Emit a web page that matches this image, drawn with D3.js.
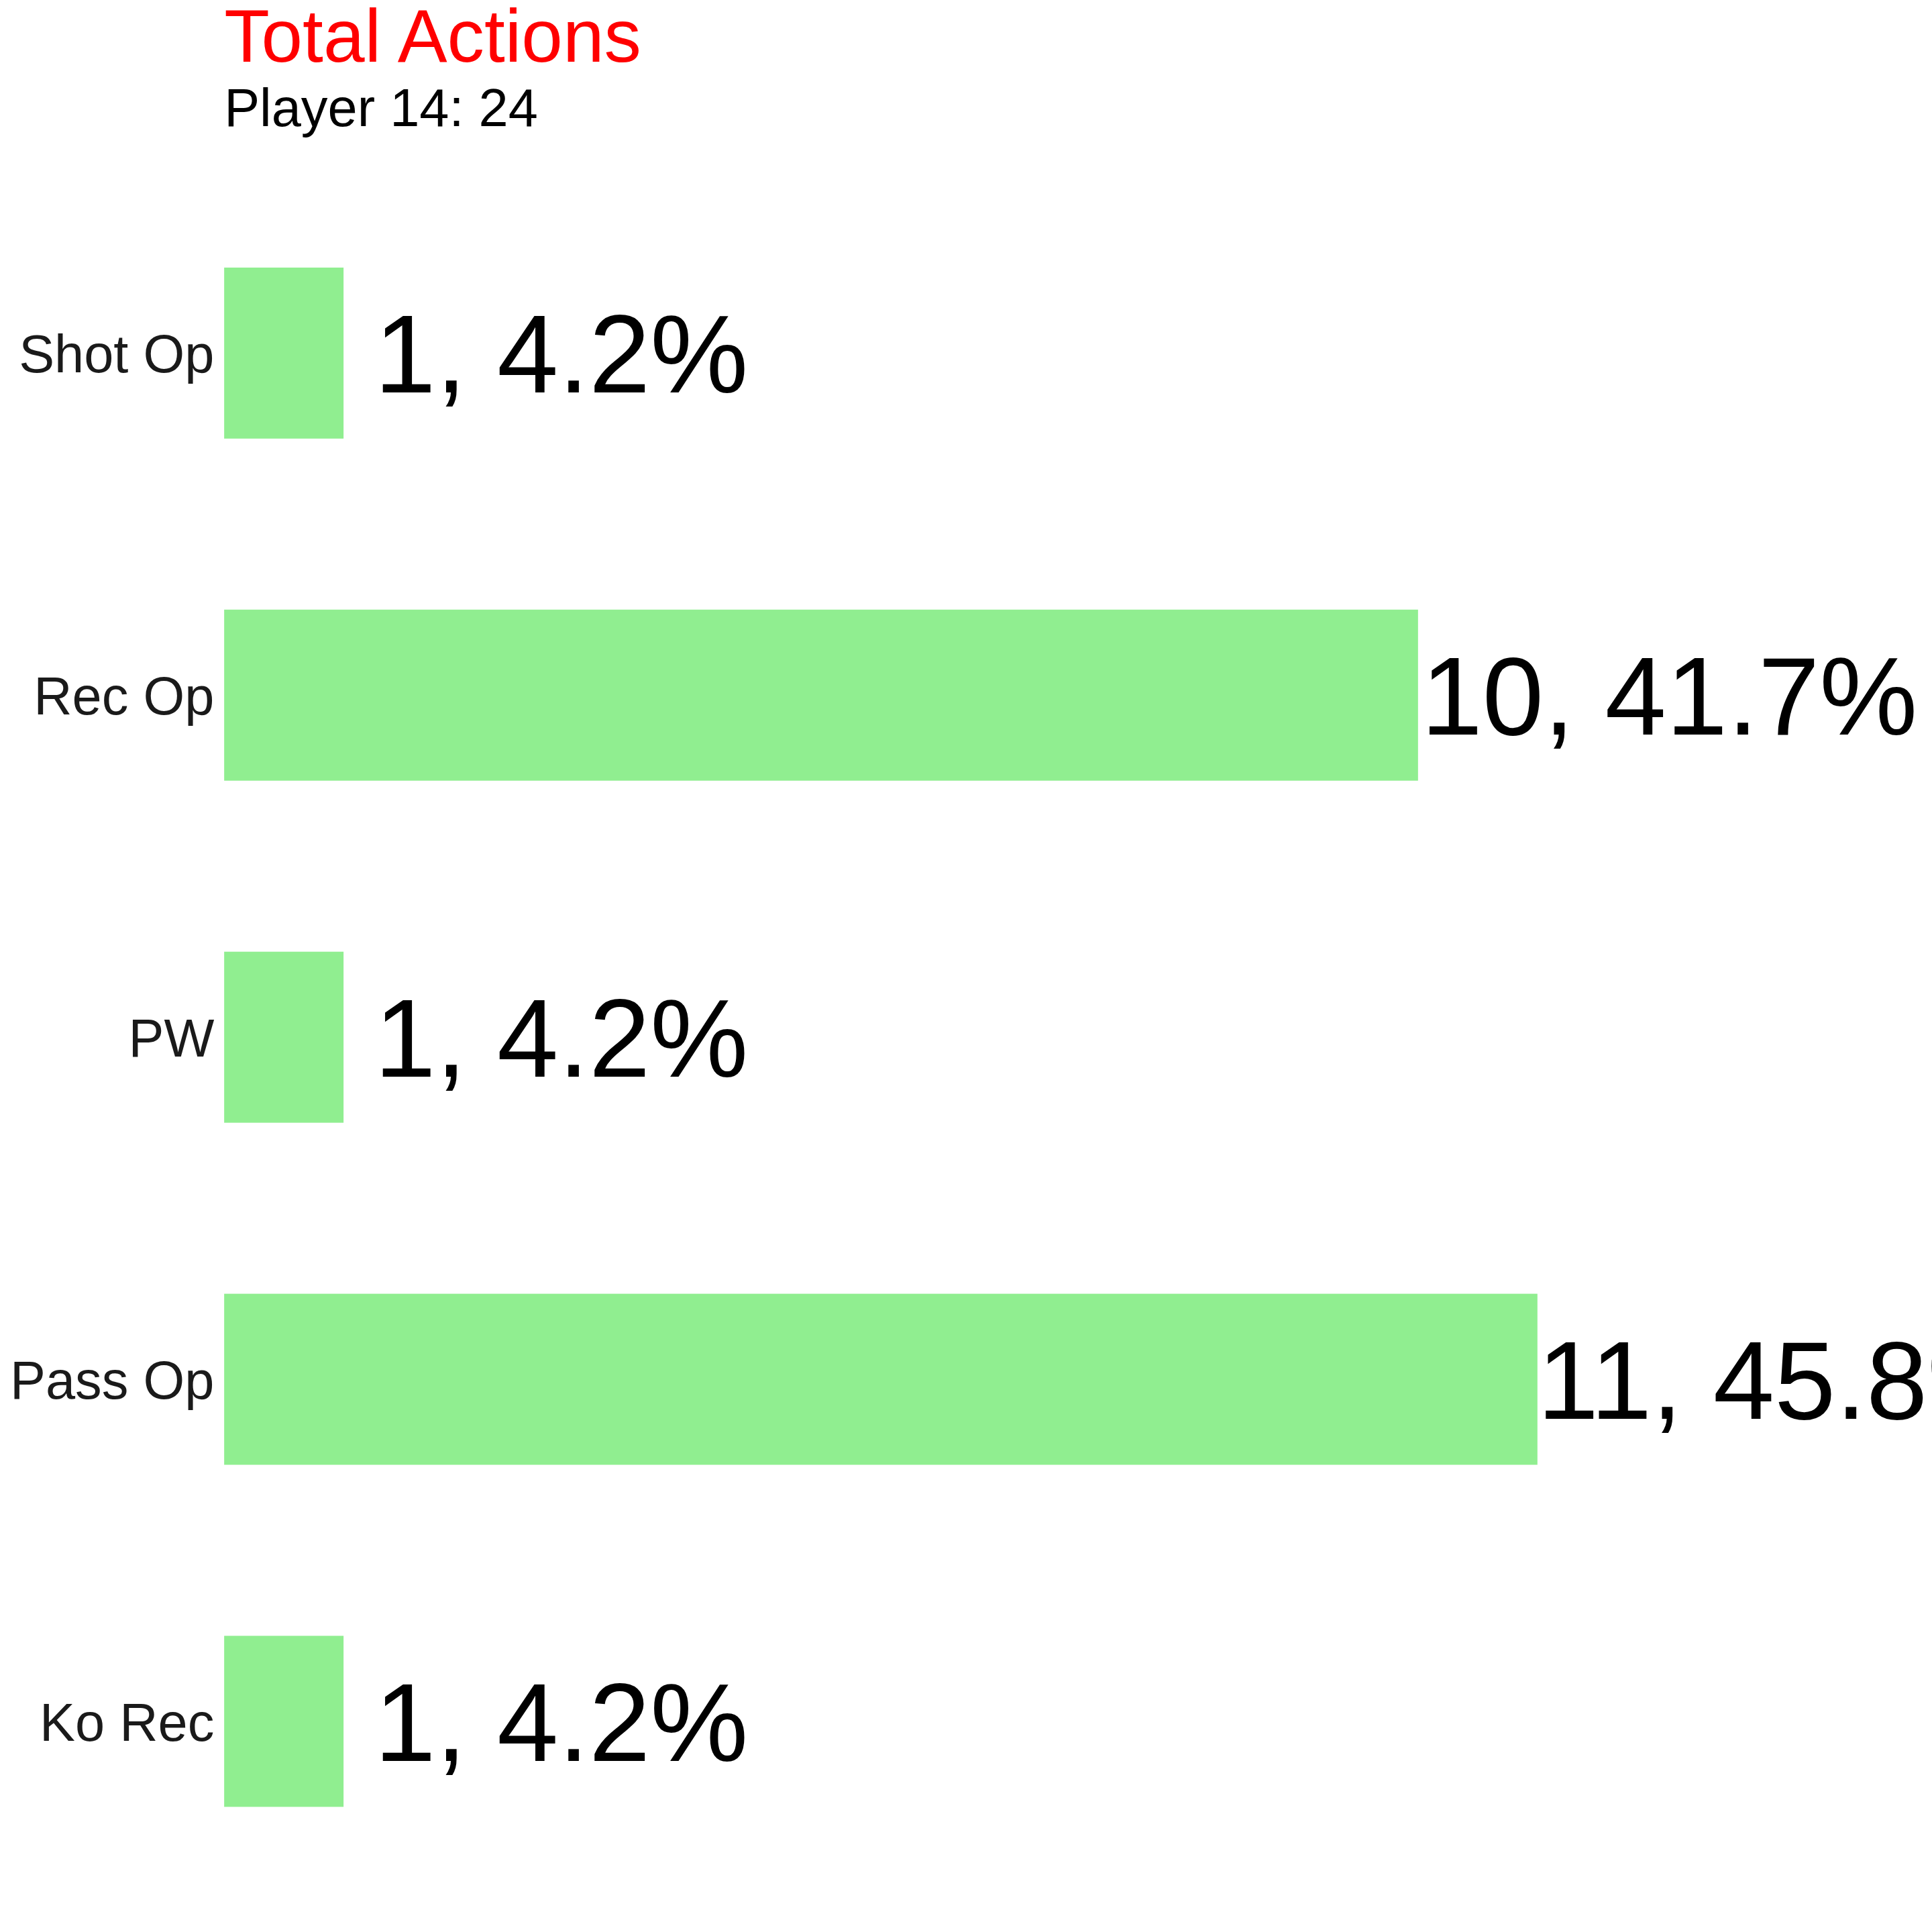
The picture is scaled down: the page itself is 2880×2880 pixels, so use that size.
<!DOCTYPE html>
<html><head><meta charset="utf-8">
<script src="https://cdn.jsdelivr.net/npm/d3@7"></script>
<style>body{margin:0;background:#fff}svg{display:block;font-family:"Liberation Sans",Arial,sans-serif}</style>
</head><body>
<script>
var categories = ['Shot Op', 'Rec Op', 'PW', 'Pass Op', 'Ko Rec']
var counts = [1, 10, 1, 11, 1]
var percents = ['4.2%', '41.7%', '4.2%', '45.8%', '4.2%']
var total = 24

// drawn in a 1560 box, scaled up to 2880
var svg = d3.select('body').append('svg')
  .attr('width', 2880).attr('height', 2880)
  .attr('viewBox', '0 0 1560 1560')

var x = d3.scaleLinear().domain([0, 1]).range([181, 277.4])
var y = d3.scaleBand().domain(categories).range([147, 1528])
  .paddingInner(0.5).paddingOuter(0.25)

svg.append('text').attr('x', 181).attr('y', 50)
  .attr('font-size', 60).attr('fill', 'red').text('Total Actions')
svg.append('text').attr('x', 181).attr('y', 102)
  .attr('font-size', 43).attr('fill', '#000').text('Player 14: ' + total)

var rows = svg.selectAll('g.row').data(categories).enter().append('g').attr('class', 'row')

rows.append('rect')
  .attr('x', x(0))
  .attr('y', function(d) { return y(d) })
  .attr('width', function(d, i) { return x(counts[i]) - x(0) })
  .attr('height', y.bandwidth())
  .attr('fill', '#90ee90')

rows.append('text')
  .attr('x', 173)
  .attr('y', function(d) { return y(d) + y.bandwidth() / 2 })
  .attr('dy', '0.36em')
  .attr('text-anchor', 'end')
  .attr('font-size', 43).attr('fill', '#1a1a1a')
  .text(function(d) { return d })

rows.append('text')
  .attr('x', function(d, i) { return x(counts[i]) + Math.max(0, 25 - 2.5 * (counts[i] - 1)) })
  .attr('y', function(d) { return y(d) + y.bandwidth() / 2 })
  .attr('dy', '0.36em')
  .attr('font-size', 89).attr('fill', '#000')
  .text(function(d, i) { return counts[i] + ', ' + percents[i] })
</script>
</body></html>
